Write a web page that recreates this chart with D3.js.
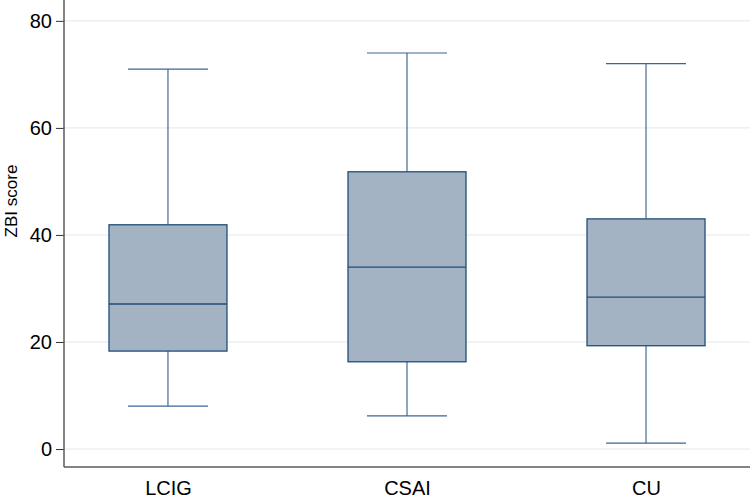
<!DOCTYPE html>
<html>
<head>
<meta charset="utf-8">
<script src="https://cdn.jsdelivr.net/npm/d3@7"></script>
<style>
  body { margin: 0; background: #fff; }
  text { font-family: "Liberation Sans", Arial, sans-serif; }
</style>
</head>
<body>
<div class="canvas"></div>
<script>
const groups = ["LCIG", "CSAI", "CU"];
const whiskerLow = [8, 6.2, 1.1];
const q1 = [18.3, 16.3, 19.3];
const median = [27.1, 34, 28.4];
const q3 = [41.9, 51.8, 43];
const whiskerHigh = [71, 74, 72];
const yTicks = [0, 20, 40, 60, 80];

const width = 750;
const height = 504;
const margin = { left: 64, right: 0, top: 0, bottom: 37 };

const svg = d3
  .select(".canvas")
  .append("svg")
  .attr("width", width)
  .attr("height", height);

const yScale = d3
  .scaleLinear()
  .domain([-3.36, 83.9])
  .range([height - margin.bottom, margin.top]);

const xScale = d3
  .scalePoint()
  .domain(groups)
  .range([margin.left, width - margin.right])
  .padding(0.435);

const boxWidth = 118;
const capWidth = 80;

// grid lines
svg
  .append("g")
  .selectAll("line")
  .data(yTicks)
  .enter()
  .append("line")
  .attr("x1", margin.left)
  .attr("x2", width - margin.right)
  .attr("y1", (d) => yScale(d))
  .attr("y2", (d) => yScale(d))
  .attr("stroke", "#e6e6e6")
  .attr("stroke-width", 1);

const data = groups.map((g, i) => ({
  name: g,
  lo: whiskerLow[i],
  q1: q1[i],
  med: median[i],
  q3: q3[i],
  hi: whiskerHigh[i],
}));

const box = svg.append("g").selectAll("g").data(data).enter().append("g");

// whiskers
box
  .append("line")
  .attr("x1", (d) => xScale(d.name))
  .attr("x2", (d) => xScale(d.name))
  .attr("y1", (d) => yScale(d.hi))
  .attr("y2", (d) => yScale(d.q3))
  .attr("stroke", "#1f4e79")
  .attr("stroke-width", 1);
box
  .append("line")
  .attr("x1", (d) => xScale(d.name))
  .attr("x2", (d) => xScale(d.name))
  .attr("y1", (d) => yScale(d.q1))
  .attr("y2", (d) => yScale(d.lo))
  .attr("stroke", "#1f4e79")
  .attr("stroke-width", 1);

// caps
["hi", "lo"].forEach((k) => {
  box
    .append("line")
    .attr("x1", (d) => xScale(d.name) - capWidth / 2)
    .attr("x2", (d) => xScale(d.name) + capWidth / 2)
    .attr("y1", (d) => yScale(d[k]))
    .attr("y2", (d) => yScale(d[k]))
    .attr("stroke", "#3d6593")
    .attr("stroke-width", 1.2);
});

box
  .append("rect")
  .attr("x", (d) => xScale(d.name) - boxWidth / 2)
  .attr("y", (d) => yScale(d.q3))
  .attr("width", boxWidth)
  .attr("height", (d) => yScale(d.q1) - yScale(d.q3))
  .attr("fill", "#a4b3c3")
  .attr("stroke", "#1f4e79")
  .attr("stroke-width", 1.3);

box
  .append("line")
  .attr("x1", (d) => xScale(d.name) - boxWidth / 2)
  .attr("x2", (d) => xScale(d.name) + boxWidth / 2)
  .attr("y1", (d) => yScale(d.med))
  .attr("y2", (d) => yScale(d.med))
  .attr("stroke", "#1f4e79")
  .attr("stroke-width", 1.3);

// y axis
const yAxis = svg
  .append("g")
  .attr("transform", `translate(${margin.left},0)`)
  .call(d3.axisLeft(yScale).tickValues(yTicks).tickSize(8).tickPadding(4));
yAxis.select(".domain").remove();
yAxis.selectAll(".tick line").attr("stroke", "#333");
yAxis
  .selectAll(".tick text")
  .attr("font-size", 20)
  .attr("fill", "#000")
  .style("font-family", "Liberation Sans, Arial, sans-serif");

svg
  .append("line")
  .attr("x1", margin.left)
  .attr("x2", margin.left)
  .attr("y1", 0)
  .attr("y2", height - margin.bottom)
  .attr("stroke", "#5a5a5a")
  .attr("stroke-width", 1.5);

// x axis
const xAxis = svg
  .append("g")
  .attr("transform", `translate(0,${height - margin.bottom})`)
  .call(d3.axisBottom(xScale).tickSize(0).tickPadding(14));
xAxis.select(".domain").remove();
xAxis
  .selectAll(".tick text")
  .attr("font-size", 20)
  .attr("fill", "#000")
  .style("font-family", "Liberation Sans, Arial, sans-serif");

svg
  .append("line")
  .attr("x1", margin.left)
  .attr("x2", width)
  .attr("y1", height - margin.bottom)
  .attr("y2", height - margin.bottom)
  .attr("stroke", "#5a5a5a")
  .attr("stroke-width", 1.5);

svg
  .append("text")
  .attr("transform", `translate(17,201) rotate(-90)`)
  .attr("text-anchor", "middle")
  .attr("font-size", 17)
  .attr("fill", "#000")
  .text("ZBI score");
</script>
</body>
</html>
